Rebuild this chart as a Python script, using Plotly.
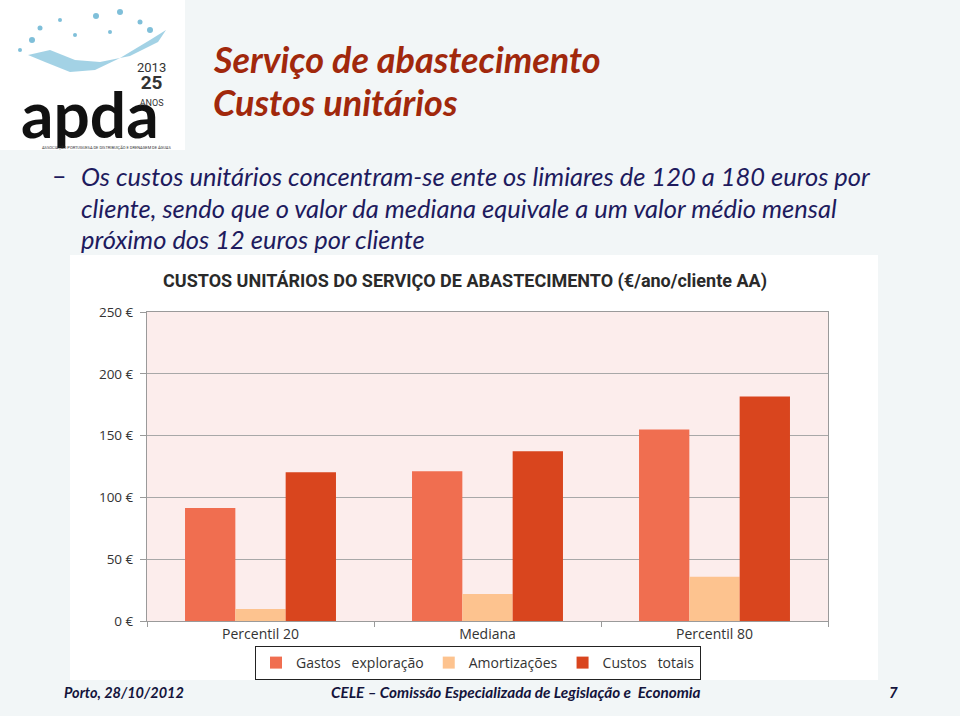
import plotly.graph_objects as go

categories = ["Percentil 20", "Mediana", "Percentil 80"]
gastos_exploracao = [91.5, 121.2, 155.0]
amortizacoes = [9.7, 21.9, 35.9]
custos_totais = [120.4, 137.4, 181.6]
series_names = ["Gastos\u00a0\u00a0 exploração", "Amortizações", "Custos\u00a0\u00a0 totais"]
y_ticks = [0, 50, 100, 150, 200, 250]
y_tick_labels = ["0 €", "50 €", "100 €", "150 €", "200 €", "250 €"]

colors = ["#F06E50", "#FDC38F", "#D9451E"]

W, H = 960, 716
PL, PR, PT, PB = 147, 828, 312, 621  # plot area in pixels


def px(x):
    return (x - PL) / (PR - PL)


def py(y):
    return (PB - y) / (PB - PT)


fig = go.Figure()
for name, vals, col in zip(series_names, [gastos_exploracao, amortizacoes, custos_totais], colors):
    fig.add_trace(go.Bar(x=categories, y=vals, name=name, marker=dict(color=col, line=dict(width=0))))

shapes = []
# white boxes (logo area + chart image area, excluding plot area)
for x0, y0, x1, y1 in [(0, 0, 185, 150),
                       (70, 255, 878, PT), (70, PB, 878, 680),
                       (70, PT, PL, PB), (PR, PT, 878, PB)]:
    shapes.append(dict(type="rect", xref="paper", yref="paper",
                       x0=px(x0), x1=px(x1), y0=py(y1), y1=py(y0),
                       fillcolor="white", line=dict(width=0), layer="below"))


def path_from(points):
    s = "M " + " L ".join(f"{px(a):.4f},{py(b):.4f}" for a, b in points) + " Z"
    return s


# water splash decoration of the logo
shapes.append(dict(type="path", xref="paper", yref="paper",
                   path=path_from([(28, 55), (45, 62), (70, 72), (95, 70), (120, 58), (150, 40), (166, 30),
                                   (158, 42), (130, 56), (100, 62), (75, 60), (50, 50)]),
                   fillcolor="#8CC7DE", line=dict(width=0), layer="below", opacity=0.8))
for cx, cy, r in [(32, 40, 3), (40, 28, 2.5), (96, 16, 3), (120, 12, 3), (140, 22, 2.5), (60, 20, 2),
                  (75, 35, 2), (20, 50, 2), (110, 32, 2), (150, 30, 3)]:
    shapes.append(dict(type="circle", xref="paper", yref="paper",
                       x0=px(cx - r), x1=px(cx + r), y0=py(cy + r), y1=py(cy - r),
                       fillcolor="#5FAFD0", line=dict(width=0), layer="below", opacity=0.8))

annotations = []


def txt(x, y, text, size, color, family, xanchor="left", **kw):
    annotations.append(dict(x=px(x), y=py(y), xref="paper", yref="paper", text=text,
                            showarrow=False, xanchor=xanchor, yanchor="middle",
                            font=dict(size=size, color=color, family=family, **kw)))


# slide title
txt(211, 59, "<b><i>Serviço de abastecimento</i></b>", 36, "#A1280C", "Lato")
txt(211, 102, "<b><i>Custos unitários</i></b>", 36, "#A1280C", "Lato")
# bullet
txt(50, 175, "–", 25, "#1E1B5E", "Lato")
txt(79, 176, "<i>Os custos unitários concentram-se ente os limiares de 120 a 180 euros por</i>", 25.5, "#1E1B5E", "Lato")
txt(79, 208, "<i>cliente, sendo que o valor da mediana equivale a um valor médio mensal</i>", 25.5, "#1E1B5E", "Lato")
txt(79, 239, "<i>próximo dos 12 euros por cliente</i>", 25.5, "#1E1B5E", "Lato")
# chart title
txt(465, 281, "<b>CUSTOS UNITÁRIOS DO SERVIÇO DE ABASTECIMENTO (€/ano/cliente AA)</b>", 18, "#2A2A2A", "Roboto",
    xanchor="center")
# footer
txt(62, 692, "<b><i>Porto, 28/10/2012</i></b>", 14.5, "#14143C", "Lato")
txt(516, 692, "<b><i>CELE – Comissão Especializada de Legislação e\u00a0 Economia</i></b>", 15.3, "#14143C", "Lato",
    xanchor="center")
txt(887, 692, "<b><i>7</i></b>", 15, "#14143C", "Lato")
# logo (text approximation)
txt(90, 113, "<b>apda</b>", 64, "#111111", "Lato", xanchor="center")
txt(151, 84, "2013<br><b><span style='font-size:19px'>25</span></b><br><span style='font-size:9px'>ANOS</span>",
    13, "#333333", "Roboto", xanchor="center")
txt(106, 147, "ASSOCIAÇÃO PORTUGUESA DE DISTRIBUIÇÃO E DRENAGEM DE ÁGUAS", 4, "#333333", "Roboto",
    xanchor="center")

fig.update_layout(
    width=W, height=H,
    margin=dict(l=PL, r=W - PR, t=PT, b=H - PB, pad=0),
    paper_bgcolor="#F2F6F7",
    plot_bgcolor="#FCEDEC",
    barmode="group", bargap=0.335, bargroupgap=0,
    showlegend=True,
    legend=dict(orientation="h", x=px(478), xanchor="center", y=py(646), yanchor="top",
                bgcolor="white", bordercolor="#222222", borderwidth=1,
                font=dict(size=14, color="#333333", family="Open Sans"),
                itemwidth=30, tracegroupgap=0),
    shapes=shapes,
    annotations=annotations,
    xaxis=dict(type="category", tickson="boundaries", ticks="outside", ticklen=5,
               tickcolor="#9A9A9A", showline=True, linecolor="#9A9A9A", linewidth=1, mirror=True,
               showgrid=False, tickfont=dict(size=14, color="#333333", family="Open Sans"),
               fixedrange=True),
    yaxis=dict(range=[0, 250], tickvals=y_ticks, ticktext=y_tick_labels, ticks="outside", ticklen=6,
               tickcolor="#9A9A9A", showline=True, linecolor="#9A9A9A", linewidth=1, mirror=True,
               showgrid=True, gridcolor="#A8A8A8", gridwidth=1.3, zeroline=False,
               ticklabelstandoff=4,
               tickfont=dict(size=13.5, color="#333333", family="Open Sans"), fixedrange=True),
)

fig.write_html("out.html", config={"displayModeBar": False},
               post_script="document.body.style.margin='0px';")
